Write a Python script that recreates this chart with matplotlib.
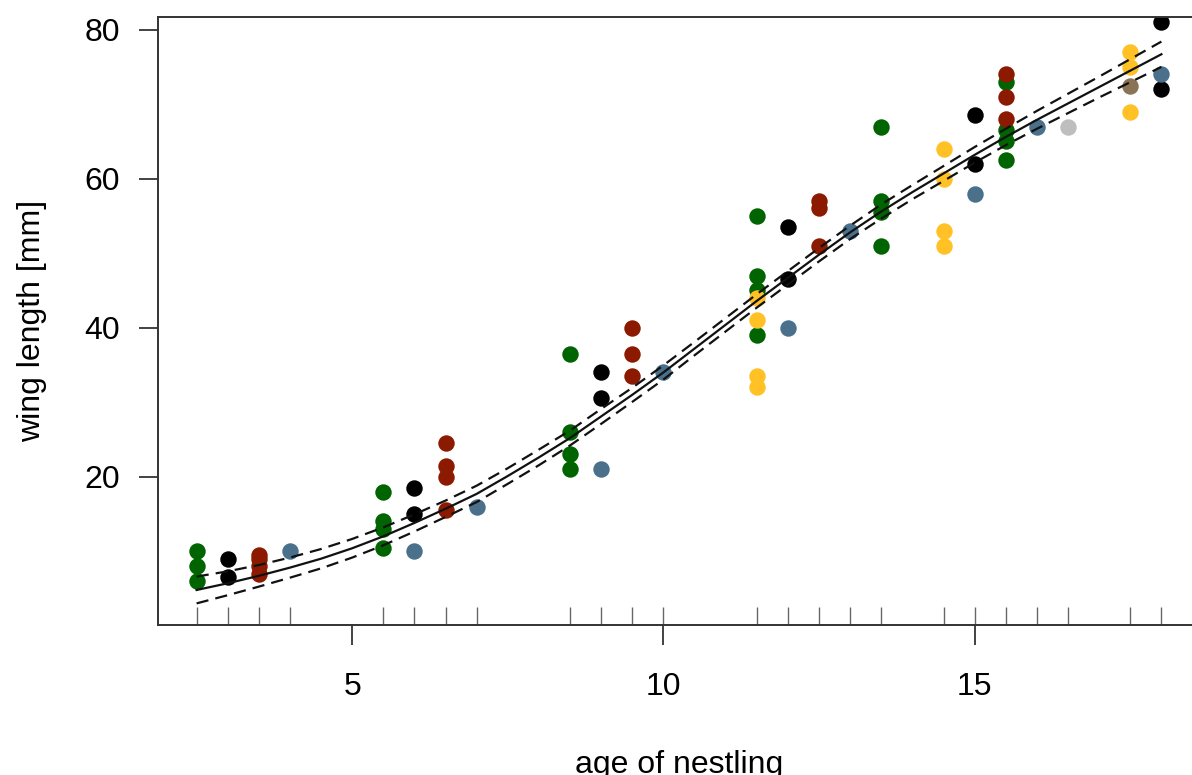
import matplotlib
matplotlib.use("Agg")
import matplotlib.pyplot as plt
import numpy as np

# observed wing lengths, one group of nestlings per colour
green_x = [2.5, 2.5, 2.5, 5.5, 5.5, 5.5, 5.5, 8.5, 8.5, 8.5, 8.5,
           11.5, 11.5, 11.5, 11.5, 13.5, 13.5, 13.5, 13.5, 15.5, 15.5, 15.5, 15.5]
green_y = [10, 8, 6, 18, 14, 13, 10.5, 36.5, 26, 23, 21,
           55, 47, 45, 39, 67, 57, 55.5, 51, 73, 66.5, 65, 62.5]

black_x = [3, 3, 6, 6, 9, 9, 12, 12, 15, 15, 18, 18]
black_y = [9, 6.5, 18.5, 15, 34, 30.5, 53.5, 46.5, 68.5, 62, 81, 72]

blue_x = [4, 6, 7, 9, 10, 12, 13, 15, 16, 18]
blue_y = [10, 10, 16, 21, 34, 40, 53, 58, 67, 74]

red_x = [3.5, 3.5, 3.5, 3.5, 6.5, 6.5, 6.5, 6.5, 9.5, 9.5, 9.5,
         12.5, 12.5, 12.5, 15.5, 15.5, 15.5]
red_y = [9.5, 9, 8, 7, 24.5, 21.5, 20, 15.5, 40, 36.5, 33.5,
         57, 56, 51, 74, 71, 68]

gold_x = [11.5, 11.5, 11.5, 11.5, 14.5, 14.5, 14.5, 14.5, 17.5, 17.5, 17.5]
gold_y = [44, 41, 33.5, 32, 64, 60, 53, 51, 77, 75, 69]

grey_x = [16.5]
grey_y = [67]

brown_x = [17.5]
brown_y = [72.5]

# fitted growth curve and its confidence band
fit_x = [2.5, 3.0, 3.5, 4.0, 4.5, 5.0, 5.5, 6.0, 6.5, 7.0, 7.5, 8.0, 8.5, 9.0, 9.5, 10.0,
         10.5, 11.0, 11.5, 12.0, 12.5, 13.0, 13.5, 14.0, 14.5, 15.0, 15.5, 16.0, 16.5,
         17.0, 17.5, 18.0]
fit_mid = [4.8, 5.7, 6.7, 7.8, 9.0, 10.4, 12.0, 13.8, 15.7, 17.7, 20.1, 22.6, 25.2, 28.1,
           31.0, 34.0, 37.2, 40.4, 43.6, 46.7, 49.8, 52.8, 55.6, 58.2, 60.7, 63.2, 65.6,
           67.9, 70.1, 72.3, 74.5, 76.7]
fit_lo = [3.0, 4.1, 5.25, 6.45, 7.7, 9.15, 10.8, 12.65, 14.6, 16.6, 19.05, 21.55, 24.2,
          27.1, 30.05, 33.05, 36.3, 39.5, 42.7, 45.8, 48.9, 51.9, 54.65, 57.25, 59.7,
          62.15, 64.5, 66.7, 68.8, 70.9, 72.95, 75.0]
fit_hi = [6.6, 7.3, 8.15, 9.15, 10.3, 11.65, 13.2, 14.95, 16.8, 18.8, 21.15, 23.65, 26.2,
          29.1, 31.95, 34.95, 38.1, 41.3, 44.5, 47.6, 50.7, 53.7, 56.55, 59.15, 61.7,
          64.25, 66.7, 69.1, 71.4, 73.7, 76.05, 78.4]

groups = [
    (green_x, green_y, "#006400"),
    (black_x, black_y, "#000000"),
    (blue_x, blue_y, "#4A708B"),
    (red_x, red_y, "#8B1A00"),
    (gold_x, gold_y, "#FFC125"),
    (grey_x, grey_y, "#BEBEBE"),
    (brown_x, brown_y, "#8B7355"),
]

plt.rcParams["font.family"] = ["Liberation Sans", "DejaVu Sans"]

fig = plt.figure(figsize=(11.92, 7.75), dpi=100)
ax = fig.add_axes([158 / 1192, 1 - 625 / 775, (1200 - 158) / 1192, (625 - 17) / 775])

for gx, gy, col in groups:
    ax.scatter(gx, gy, s=140, color=col, linewidths=0, zorder=2)

ax.plot(fit_x, fit_mid, color="#111111", lw=1.6, zorder=3)
ax.plot(fit_x, fit_lo, color="#111111", lw=1.6, dashes=(5.5, 3.2), zorder=3)
ax.plot(fit_x, fit_hi, color="#111111", lw=1.6, dashes=(5.5, 3.2), zorder=3)

ax.set_xlim(1.88, 18.62)
ax.set_ylim(0.1, 81.7)

ax.set_xticks([5, 10, 15])
ax.set_yticks([20, 40, 60, 80])

# rug of sampled ages drawn as inward minor ticks
all_x = np.concatenate([np.asarray(g[0], dtype=float) for g in groups])
ax.set_xticks(np.unique(all_x), minor=True)
ax.xaxis.remove_overlapping_locs = False

ax.tick_params(axis="x", which="major", direction="out", length=14.5, width=1.2,
               color="#222222", pad=19, labelsize=23)
ax.tick_params(axis="x", which="minor", direction="in", length=13, width=1.0,
               color="#666666")
ax.tick_params(axis="y", which="major", direction="out", length=13.5, width=1.2,
               color="#222222", pad=14, labelsize=23)

ax.spines["right"].set_visible(False)
for side in ["left", "top", "bottom"]:
    ax.spines[side].set_linewidth(1.4)
    ax.spines[side].set_color("#333333")

ax.set_xlabel("age of nestling", fontsize=23, labelpad=35)
ax.set_ylabel("wing length [mm]", fontsize=23, labelpad=27)

fig.savefig("out.png", dpi=100)
